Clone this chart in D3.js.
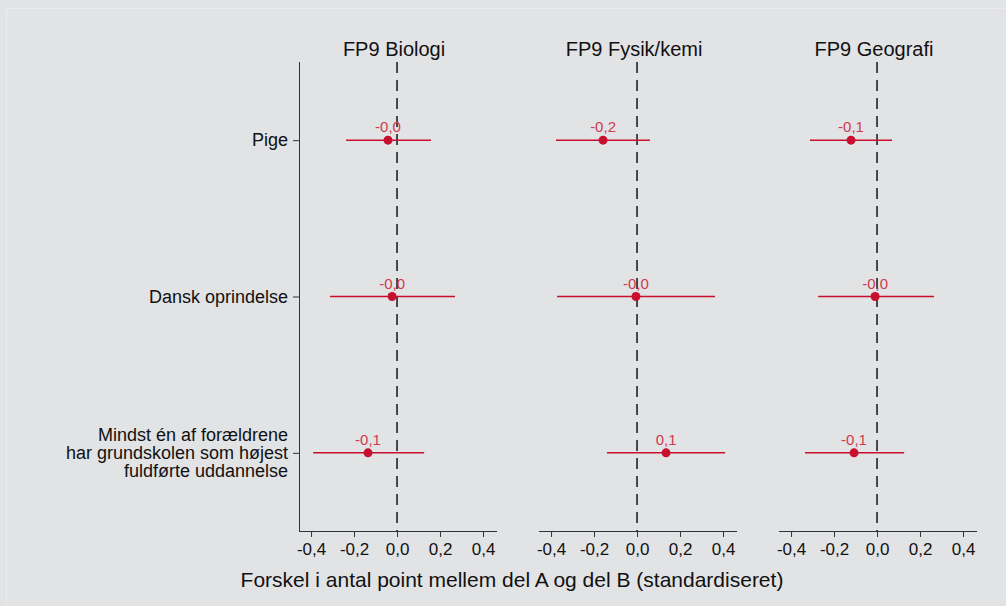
<!DOCTYPE html>
<html>
<head>
<meta charset="utf-8">
<script src="https://cdn.jsdelivr.net/npm/d3@7"></script>
<style>
  body { margin: 0; background: #e2e3e5; }
  svg { display: block; font-family: "Liberation Sans", Arial, sans-serif; }
</style>
</head>
<body>
<svg id="chart" width="1006" height="606"></svg>
<script>
// panels (subjects) and rows (groups)
var subjects = ['FP9 Biologi', 'FP9 Fysik/kemi', 'FP9 Geografi'];
var groups = ['Pige', 'Dansk oprindelse', 'Mindst én af forældrene\nhar grundskolen som højest\nfuldførte uddannelse'];

// estimates, per subject, in group order
var estimates = [
  [-0.042, -0.023, -0.135],
  [-0.158, -0.005, 0.135],
  [-0.121, -0.009, -0.107]
];
var lower = [
  [-0.237, -0.312, -0.390],
  [-0.377, -0.372, -0.140],
  [-0.312, -0.274, -0.335]
];
var upper = [
  [0.158, 0.270, 0.126],
  [0.060, 0.363, 0.410],
  [0.070, 0.265, 0.126]
];
var valueLabels = [
  ['-0,0', '-0,0', '-0,1'],
  ['-0,2', '-0,0', '0,1'],
  ['-0,1', '-0,0', '-0,1']
];
var xTicks = [-0.4, -0.2, 0, 0.2, 0.4];

var svg = d3.select('#chart');
var red = '#c8102e';

// faint frame
svg.append('rect')
  .attr('x', 6.5).attr('y', 8.5)
  .attr('width', 1010).attr('height', 610)
  .attr('fill', 'none')
  .attr('stroke', '#ececee');

var plotTop = 62, plotBottom = 531;
var y = d3.scaleLinear().domain([0.5, 3.5]).range([plotTop, plotBottom]);

subjects.forEach(function(name, i) {
  var left = 299 + i * 240;
  var x = d3.scaleLinear().domain([-0.456, 0.465]).range([left, left + 198]);
  var g = svg.append('g');

  // x axis
  var ax = g.append('g')
    .attr('transform', 'translate(0,' + plotBottom + ')')
    .call(d3.axisBottom(x).tickValues(xTicks).tickSize(6).tickPadding(6)
      .tickFormat(function(d) { return d3.format('.1f')(d).replace('.', ',').replace('−', '-'); }));
  ax.select('.domain').attr('stroke', '#333').attr('d', 'M' + left + ',0.5H' + (left + 198));
  ax.selectAll('.tick line').attr('stroke', '#333');
  ax.selectAll('.tick text').attr('font-size', 17).attr('fill', '#111')
    .attr('font-family', '"Liberation Sans", Arial, sans-serif');

  // reference line at zero
  g.append('line')
    .attr('x1', x(0)).attr('x2', x(0))
    .attr('y1', plotTop).attr('y2', plotBottom)
    .attr('stroke', '#222')
    .attr('stroke-width', 1.6)
    .attr('stroke-dasharray', '11,7');

  // panel title
  g.append('text')
    .attr('x', x(0) - 3).attr('y', 56)
    .attr('text-anchor', 'middle')
    .attr('font-size', 20)
    .attr('fill', '#111')
    .text(name);

  var rows = groups.map(function(_, j) {
    return { est: estimates[i][j], lo: lower[i][j], hi: upper[i][j], label: valueLabels[i][j], row: j + 1 };
  });

  g.selectAll('line.ci').data(rows).enter().append('line')
    .attr('class', 'ci')
    .attr('x1', (d) => x(d.lo)).attr('x2', (d) => x(d.hi))
    .attr('y1', (d) => y(d.row)).attr('y2', (d) => y(d.row))
    .attr('stroke', red)
    .attr('stroke-width', 1.5);

  g.selectAll('circle').data(rows).enter().append('circle')
    .attr('cx', (d) => x(d.est))
    .attr('cy', (d) => y(d.row))
    .attr('r', 4.5)
    .attr('fill', red);

  g.selectAll('text.val').data(rows).enter().append('text')
    .attr('class', 'val')
    .attr('x', (d) => x(d.est))
    .attr('y', (d) => y(d.row) - 8)
    .attr('text-anchor', 'middle')
    .attr('font-size', 15)
    .attr('fill', '#cf3a4e')
    .text((d) => d.label);

  // y axis on first panel only
  if (i === 0) {
    var ay = g.append('g').attr('transform', 'translate(' + left + ',0)')
      .call(d3.axisLeft(y).tickValues([1, 2, 3]).tickSize(6).tickFormat(''));
    ay.select('.domain').attr('stroke', '#333').attr('d', 'M0.5,' + plotTop + 'V' + plotBottom);
    ay.selectAll('.tick line').attr('stroke', '#333');

    groups.forEach(function(label, j) {
      var lines = label.split('\n');
      var t = g.append('text')
        .attr('text-anchor', 'end')
        .attr('font-size', 18)
        .attr('fill', '#111');
      lines.forEach(function(l, k) {
        t.append('tspan')
          .attr('x', left - 11)
          .attr('y', y(j + 1) + 6 + (k - (lines.length - 1) / 2) * 18)
          .text(l);
      });
    });
  }
});

svg.append('text')
  .attr('x', 512).attr('y', 587)
  .attr('text-anchor', 'middle')
  .attr('font-size', 21)
  .attr('fill', '#111')
  .text('Forskel i antal point mellem del A og del B (standardiseret)');
</script>
</body>
</html>
